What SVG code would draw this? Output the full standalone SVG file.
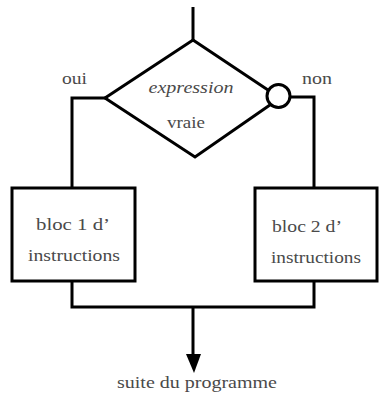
<svg xmlns="http://www.w3.org/2000/svg" width="379" height="396" viewBox="0 0 379 396">
<style>
.ln{fill:none;stroke:#000;stroke-width:3}
.sh{fill:#fff;stroke:#000;stroke-width:3}
.t{font-family:"Liberation Serif","Times New Roman",serif;font-size:17px;fill:#4a4a4a}
</style>
<rect width="379" height="396" fill="#fff"/>
<g id="connectors">
<line class="ln" x1="193" y1="7" x2="193" y2="40"/>
<polyline class="ln" points="105,98 72,98 72,188"/>
<polyline class="ln" points="290,97 314,97 314,188"/>
<polyline class="ln" points="72,281 72,307 314,307 314,281"/>
<line class="ln" x1="193" y1="307" x2="193" y2="356"/>
<path d="M186,354 L201,354 L194,373 Z" fill="#000"/>
</g>
<g id="decision">
<polygon class="sh" points="193,40 280,98 195,157 105,98"/>
<circle class="sh" cx="278.5" cy="96" r="11.5"/>
<text class="t" x="191" y="93" text-anchor="middle" font-style="italic" textLength="85" lengthAdjust="spacingAndGlyphs">expression</text>
<text class="t" x="186" y="128" text-anchor="middle" textLength="38" lengthAdjust="spacingAndGlyphs">vraie</text>
</g>
<g id="label-oui"><text class="t" x="62" y="84" textLength="25" lengthAdjust="spacingAndGlyphs">oui</text></g>
<g id="label-non"><text class="t" x="302" y="84" textLength="30" lengthAdjust="spacingAndGlyphs">non</text></g>
<g id="bloc1">
<rect class="sh" x="12" y="188" width="123" height="93"/>
<text class="t" x="36" y="230" textLength="74" lengthAdjust="spacingAndGlyphs">bloc 1 d’</text>
<text class="t" x="28" y="261" textLength="92" lengthAdjust="spacingAndGlyphs">instructions</text>
</g>
<g id="bloc2">
<rect class="sh" x="255" y="188" width="122" height="93"/>
<text class="t" x="272" y="232" textLength="70" lengthAdjust="spacingAndGlyphs">bloc 2 d’</text>
<text class="t" x="271" y="263" textLength="90" lengthAdjust="spacingAndGlyphs">instructions</text>
</g>
<g id="suite">
<text class="t" x="117" y="388" textLength="160" lengthAdjust="spacingAndGlyphs">suite du programme</text>
</g>
</svg>
